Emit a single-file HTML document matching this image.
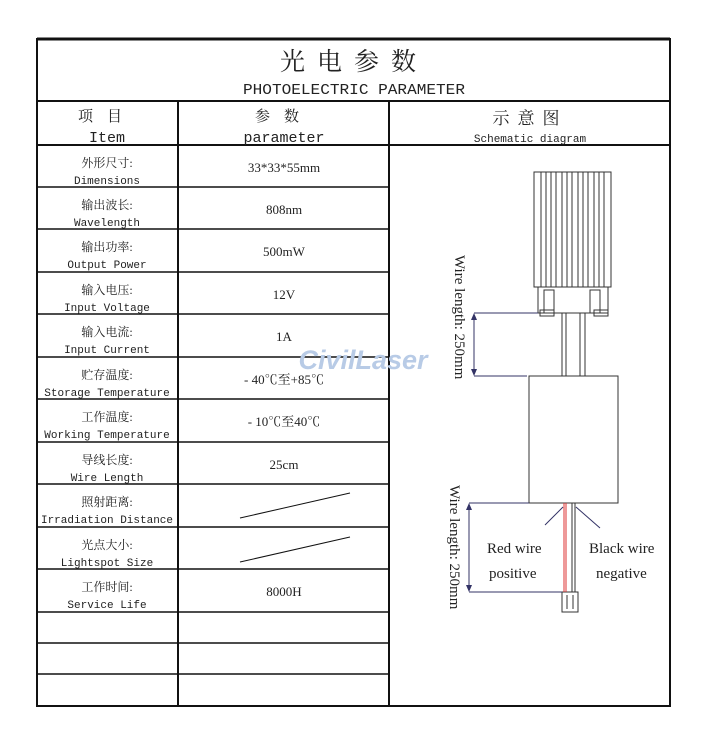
<!DOCTYPE html>
<html><head><meta charset="utf-8"><style>
body{margin:0;background:#fff;width:711px;height:751px;overflow:hidden}
svg text{font-family:"Liberation Mono","Noto Serif CJK SC",monospace;fill:#222}
.c{font-family:"Liberation Serif","Noto Serif CJK SC",serif}
</style></head><body>
<svg width="711" height="751" viewBox="0 0 711 751" xmlns="http://www.w3.org/2000/svg">
<g stroke="#111" stroke-width="2" fill="none">
<rect x="37" y="39" width="633" height="667"/>
<line x1="37" y1="39" x2="670" y2="39" stroke-width="3"/>
<line x1="37" y1="101" x2="670" y2="101"/>
<line x1="37" y1="145" x2="670" y2="145"/>
<line x1="178" y1="101" x2="178" y2="706"/>
<line x1="389" y1="101" x2="389" y2="706"/>
<g stroke-width="1.5">
<line x1="37" y1="187" x2="389" y2="187"/><line x1="37" y1="229" x2="389" y2="229"/>
<line x1="37" y1="272" x2="389" y2="272"/><line x1="37" y1="314" x2="389" y2="314"/>
<line x1="37" y1="357" x2="389" y2="357"/><line x1="37" y1="399" x2="389" y2="399"/>
<line x1="37" y1="442" x2="389" y2="442"/><line x1="37" y1="484" x2="389" y2="484"/>
<line x1="37" y1="527" x2="389" y2="527"/><line x1="37" y1="569" x2="389" y2="569"/>
<line x1="37" y1="612" x2="389" y2="612"/><line x1="37" y1="643" x2="389" y2="643"/>
<line x1="37" y1="674" x2="389" y2="674"/>
</g>
<g stroke-width="1">
<line x1="240" y1="518" x2="350" y2="493"/><line x1="240" y1="562" x2="350" y2="537"/>
</g>
</g>
<text x="354" y="70" font-size="25" text-anchor="middle" class="c" letter-spacing="12">光电参数</text>
<text x="354" y="94" font-size="15" text-anchor="middle" textLength="222" lengthAdjust="spacingAndGlyphs">PHOTOELECTRIC PARAMETER</text>
<text x="107" y="121" font-size="15" text-anchor="middle" class="c" letter-spacing="14">项目</text>
<text x="107" y="142" font-size="15" text-anchor="middle">Item</text>
<text x="284" y="121" font-size="15" text-anchor="middle" class="c" letter-spacing="14">参数</text>
<text x="284" y="142" font-size="15" text-anchor="middle">parameter</text>
<text x="530" y="124" font-size="17" text-anchor="middle" class="c" letter-spacing="8">示意图</text>
<text x="530" y="142" font-size="11" text-anchor="middle">Schematic diagram</text>
<g font-size="12" text-anchor="middle">
<text x="107" y="167" class="c">外形尺寸:</text><text x="107" y="184" font-size="11">Dimensions</text>
<text x="107" y="209" class="c">输出波长:</text><text x="107" y="226" font-size="11">Wavelength</text>
<text x="107" y="251" class="c">输出功率:</text><text x="107" y="268" font-size="11">Output Power</text>
<text x="107" y="294" class="c">输入电压:</text><text x="107" y="311" font-size="11">Input Voltage</text>
<text x="107" y="336" class="c">输入电流:</text><text x="107" y="353" font-size="11">Input Current</text>
<text x="107" y="379" class="c">贮存温度:</text><text x="107" y="396" font-size="11">Storage Temperature</text>
<text x="107" y="421" class="c">工作温度:</text><text x="107" y="438" font-size="11">Working Temperature</text>
<text x="107" y="464" class="c">导线长度:</text><text x="107" y="481" font-size="11">Wire Length</text>
<text x="107" y="506" class="c">照射距离:</text><text x="107" y="523" font-size="11">Irradiation Distance</text>
<text x="107" y="549" class="c">光点大小:</text><text x="107" y="566" font-size="11">Lightspot Size</text>
<text x="107" y="591" class="c">工作时间:</text><text x="107" y="608" font-size="11">Service Life</text>
</g>
<g font-size="13" text-anchor="middle" class="c">
<text x="284" y="172" class="c">33*33*55mm</text>
<text x="284" y="214" class="c">808nm</text>
<text x="284" y="256" class="c">500mW</text>
<text x="284" y="299" class="c">12V</text>
<text x="284" y="341" class="c">1A</text>
<text x="284" y="384" class="c">- 40℃至+85℃</text>
<text x="284" y="426" class="c">- 10℃至40℃</text>
<text x="284" y="469" class="c">25cm</text>
<text x="284" y="596" class="c">8000H</text>
</g>
<text x="363" y="369" font-size="27" font-weight="bold" font-style="italic" text-anchor="middle" style="font-family:'Liberation Sans',sans-serif;fill:#b8cbe6">CivilLaser</text>
<g stroke="#333" stroke-width="1" fill="none">
<rect x="534" y="172" width="77" height="115"/>
<path d="M541 172V287M546 172V287M551 172V287M556 172V287M562 172V287M567 172V287M572 172V287M578 172V287M583 172V287M588 172V287M594 172V287M599 172V287M604 172V287"/>
<rect x="538" y="287" width="70" height="26"/>
<rect x="544" y="290" width="10" height="23"/><rect x="590" y="290" width="10" height="23"/>
<rect x="540" y="310" width="14" height="6"/><rect x="594" y="310" width="14" height="6"/>
<path d="M562 313V376M566 313V376M580 313V376M585 313V376"/>
<rect x="529" y="376" width="89" height="127"/>
<path d="M572 503V592M575 503V592"/>
<rect x="562" y="592" width="16" height="20"/>
<path d="M567 595V609M573 595V609"/>
</g>
<path d="M564 503V592M566 503V592" stroke="#d33" stroke-width="1"/>
<g stroke="#336" stroke-width="1" fill="none">
<path d="M474 313H538M474 376H527M474 315V374"/>
<path d="M469 503H529M469 592H562M469 505V590"/>
<path d="M545 525L563 507M600 528L576 507"/>
</g>
<g fill="#336"><path d="M474 313l-3 7h6z M474 376l-3 -7h6z M469 503l-3 7h6z M469 592l-3 -7h6z"/></g>
<text transform="translate(455,255) rotate(90)" font-size="15" class="c">Wire length: 250mm</text>
<text transform="translate(450,485) rotate(90)" font-size="15" class="c">Wire length: 250mm</text>
<g font-size="15" class="c">
<text x="487" y="553" class="c">Red wire</text><text x="489" y="578" class="c">positive</text>
<text x="589" y="553" class="c">Black wire</text><text x="596" y="578" class="c">negative</text>
</g>
</svg>
</body></html>
